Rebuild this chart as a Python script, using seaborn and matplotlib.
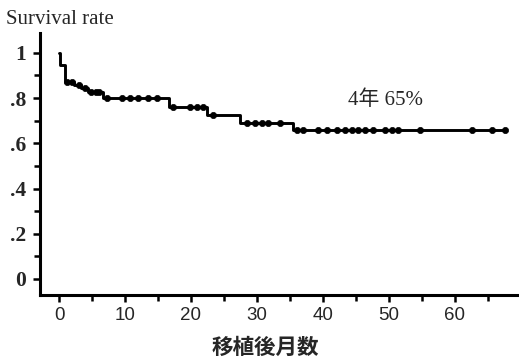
import numpy as np
import pandas as pd
import matplotlib
matplotlib.use("Agg")
import matplotlib.pyplot as plt
import seaborn as sns

# Kaplan-Meier step data (months, survival after each drop)
step_times = [0.2, 0.9, 2.2, 3.4, 4.4, 6.6, 16.7, 22.4, 27.4, 35.5]
step_surv = [0.945, 0.873, 0.857, 0.843, 0.829, 0.800, 0.762, 0.726, 0.690, 0.659]
# censored observations (months)
censor_times = [1.2, 1.9, 3.1, 3.9, 4.8, 5.6, 6.0,
                7.3, 9.5, 10.8, 12.0, 13.5, 14.8,
                17.3, 19.8, 20.9, 21.8, 23.3,
                28.5, 29.7, 30.8, 31.7, 33.5,
                36.1, 37.0, 39.2, 40.6, 42.1, 43.3, 44.4, 45.3, 46.4, 47.6,
                49.4, 50.5, 51.4, 54.7, 62.6, 65.6, 67.6]
x_ticks = [0, 10, 20, 30, 40, 50, 60]
y_ticks = [0, 0.2, 0.4, 0.6, 0.8, 1.0]
y_ticklabels = ["0", ".2", ".4", ".6", ".8", "1"]
annotation = "4年 65%"
x_label = "移植後月数"
y_label = "Survival rate"

sns.set_style("ticks")
plt.rcParams["font.family"] = ["Liberation Serif", "Noto Sans CJK JP", "DejaVu Sans"]

end_time = max(censor_times)
curve = pd.DataFrame({
    "month": [0.0] + step_times + [end_time],
    "surv": [1.0] + step_surv + [step_surv[-1]],
})
idx = np.searchsorted(np.array(step_times), np.array(censor_times), side="right")
levels = np.array([1.0] + step_surv)
cens = pd.DataFrame({"month": censor_times, "surv": levels[idx]})

fig = plt.figure(figsize=(5.19, 3.6), dpi=100)
ax = fig.add_axes([40 / 519, 1 - 295 / 360, 1 - 40 / 519, (295 - 33) / 360])

sns.lineplot(data=curve, x="month", y="surv", drawstyle="steps-post",
             estimator=None, color="black", linewidth=2.1, ax=ax)
sns.scatterplot(data=cens, x="month", y="surv", color="black", s=20,
                edgecolor="black", linewidth=0.5, ax=ax, zorder=3)

ax.set_xlim(-2.88, 69.7)
ax.set_ylim(-0.071, 1.088)
ax.set_xticks(x_ticks)
ax.set_xticklabels([str(t) for t in x_ticks], family=["Liberation Sans"], fontsize=13.5)
ax.set_xticks(np.arange(5, 70, 10), minor=True)
ax.set_yticks(y_ticks)
ax.set_yticklabels(y_ticklabels, fontsize=15.5, fontweight="bold", family=["Liberation Serif"])
ax.set_yticks(np.arange(0.1, 1.0, 0.2), minor=True)
ax.tick_params(axis="both", which="major", length=5, width=1.8, direction="out", color="black")
ax.tick_params(axis="x", which="major", pad=4)
ax.tick_params(axis="y", which="major", pad=5)
ax.tick_params(axis="both", which="minor", length=4, width=1.8, direction="out", color="black")
ax.set_xlabel("")
ax.set_ylabel("")
for side in ["top", "right"]:
    ax.spines[side].set_visible(False)
for side in ["left", "bottom"]:
    ax.spines[side].set_linewidth(2.2)
    ax.spines[side].set_color("black")

fig.text(6 / 519, 1 - 19 / 360, y_label, ha="left", va="center", fontsize=15,
         family=["Liberation Serif"])
fig.text(385 / 519, 1 - 100 / 360, annotation, ha="center", va="center", fontsize=15,
         family=["Liberation Serif", "Noto Sans CJK JP"])
fig.text(265 / 519, 1 - 347 / 360, x_label, ha="center", va="center", fontsize=15.5,
         fontweight="bold", family=["Noto Sans CJK JP"])

fig.savefig("out.png", dpi=100)
